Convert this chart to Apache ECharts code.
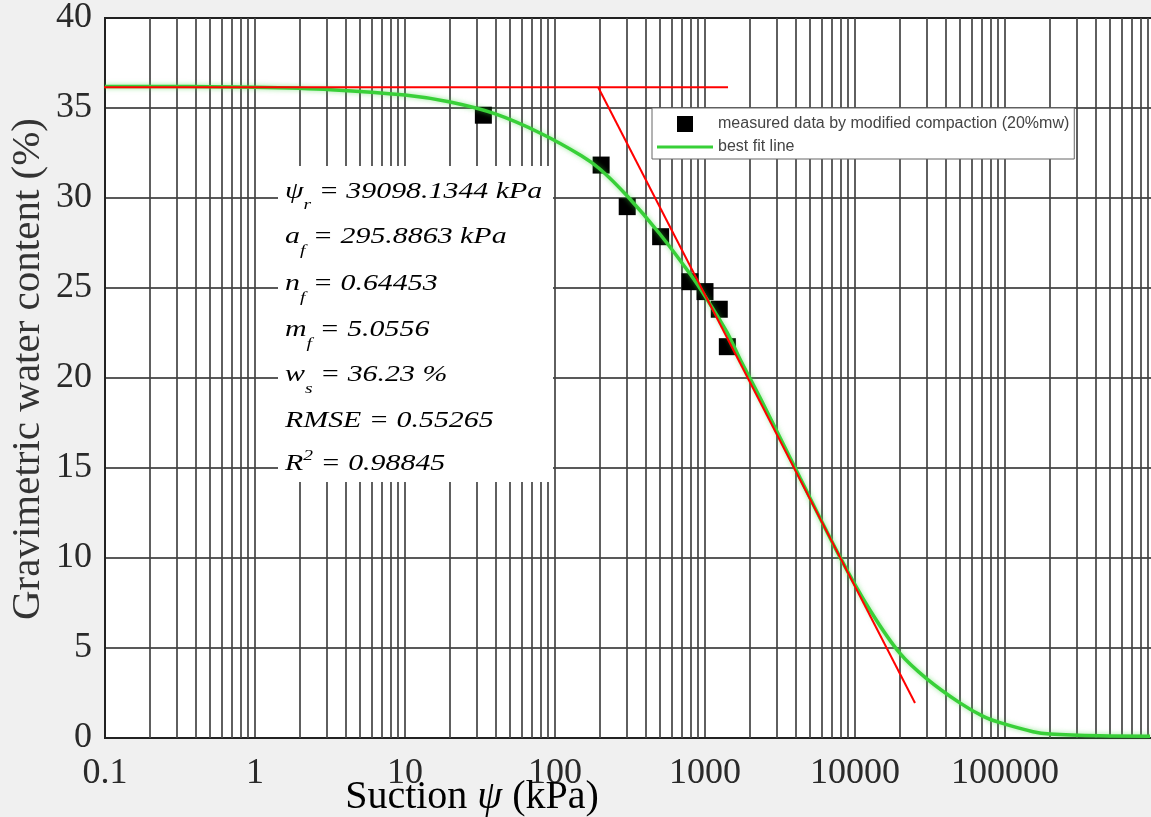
<!DOCTYPE html>
<html>
<head>
<meta charset="utf-8">
<script src="https://cdn.jsdelivr.net/npm/echarts@6/dist/echarts.min.js"></script>
<style>
  html, body { margin: 0; padding: 0; background: #f0f0f0; }
  #chart { width: 1151px; height: 817px; }
</style>
</head>
<body>
<div id="chart"></div>
<script>
// Measured points: suction (kPa) and gravimetric water content (%)
const measuredSuction = [33.3, 203, 303, 506, 794, 1000, 1245, 1409];
const measuredWater   = [34.6, 31.83, 29.52, 27.85, 25.35, 24.8, 23.82, 21.74];

// Best fit curve, sampled along the suction range
const fitSuction = [0.1, 0.32, 1, 3.2, 10, 20, 40, 80, 150, 200, 300, 500, 800, 1000, 1400, 1700,
                    2330, 4300, 7940, 12600, 19950, 30000, 50000, 71600, 92700, 153800, 199500, 430000, 926000];
const fitWater   = [36.2, 36.19, 36.15, 36.02, 35.72, 35.33, 34.67, 33.6, 32.35, 31.6, 30.15, 28.0, 25.75, 24.55, 22.55, 21.1,
                    18.9, 14.45, 10.05, 7.1, 4.7, 3.3, 1.95, 1.2, 0.85, 0.35, 0.22, 0.12, 0.1];

// Graphical construction: saturated plateau and inflection tangent
const plateauSuction = [0.0885, 1424];
const plateauWater   = [36.15, 36.15];
const tangentSuction = [194, 25119];
const tangentWater   = [36.15, 1.94];

// Axis ranges
const xRange = [0.1, 1e6];
const yRange = [0, 40];
const yStep = 5;

// Series names
const measuredName = 'measured data by modified compaction (20%mw)';
const fitName = 'best fit line';

// Fitted parameters shown in the annotation box
const paramSymbols = ['ψ', 'a', 'n', 'm', 'w', 'RMSE', 'R'];
const paramSubs    = ['r', 'f', 'f', 'f', 's', '', ''];
const paramSups    = ['', '', '', '', '', '', '2'];
const paramRest    = [' = 39098.1344 kPa', ' = 295.8863 kPa', ' = 0.64453', ' = 5.0556', ' = 36.23 %', ' = 0.55265', ' = 0.98845'];
const paramTops    = [176, 221.5, 268.5, 314.5, 359.5, 405.5, 448.5];

const zip = (xs, ys) => xs.map((x, i) => [x, ys[i]]);

// Log-decade minor grid lines (2..9 within each decade)
const minorGrid = [];
for (let d = -1; d < 6; d++) {
  for (let k = 2; k <= 9; k++) minorGrid.push({ xAxis: +(k * Math.pow(10, d)).toPrecision(6) });
}

const serif = 'Liberation Serif';
const annoStyles = {
  m: { fontSize: 23, fontStyle: 'italic', fontFamily: serif, color: '#333', lineHeight: 24, padding: [4, 0, 0, 0], verticalAlign: 'top' },
  s: { fontSize: 15, fontStyle: 'italic', fontFamily: serif, color: '#333', lineHeight: 16, padding: [22, 0, 0, 0], verticalAlign: 'top' },
  p: { fontSize: 15, fontStyle: 'italic', fontFamily: serif, color: '#333', lineHeight: 16, padding: [0, 0, 0, 0], verticalAlign: 'top' }
};

const annoTexts = paramSymbols.map((sym, i) => {
  let t = '{m|' + sym + '}';
  if (paramSubs[i]) t += '{s|' + paramSubs[i] + '}';
  if (paramSups[i]) t += '{p|' + paramSups[i] + '}';
  t += '{m|' + paramRest[i] + '}';
  return {
    type: 'text', x: 285, y: paramTops[i], scaleX: 1.3, z: 3,
    style: { text: t, rich: annoStyles, verticalAlign: 'top', align: 'left' }
  };
});

const chart = echarts.init(document.getElementById('chart'), null, { renderer: 'canvas' });

chart.setOption({
  backgroundColor: '#f0f0f0',
  animation: false,
  grid: {
    left: 105, top: 18, width: 1050, height: 720,
    outerBoundsMode: 'none', containLabel: false,
    show: true, backgroundColor: '#ffffff', borderColor: '#222', borderWidth: 2
  },
  legend: {
    orient: 'vertical', left: 652, top: 108,
    padding: [8, 5, 4, 5], itemGap: 7, itemWidth: 56, itemHeight: 16,
    backgroundColor: '#ffffff', borderColor: '#666', borderWidth: 1,
    textStyle: { fontSize: 16, fontFamily: 'Liberation Sans', color: '#444' },
    data: [
      { name: measuredName, icon: 'path://M0 0H10V10H0Z' },
      { name: fitName, icon: 'path://M0 0H56V3H0Z' }
    ]
  },
  xAxis: {
    type: 'log', logBase: 10, min: xRange[0], max: xRange[1], splitNumber: 7,
    axisLine: { show: true, lineStyle: { color: '#222', width: 2 } },
    axisTick: { show: false },
    axisLabel: {
      fontSize: 36, fontFamily: serif, color: '#2a2a2a', margin: 18,
      formatter: v => (v > xRange[1] * 0.99 ? '' : String(+v.toPrecision(6)))
    },
    splitLine: { show: true, lineStyle: { color: '#444', width: 1.7 } }
  },
  yAxis: {
    type: 'value', min: yRange[0], max: yRange[1], interval: yStep,
    axisLine: { show: true, lineStyle: { color: '#222', width: 2 } },
    axisTick: { show: false },
    axisLabel: { fontSize: 36, fontFamily: serif, color: '#2a2a2a', margin: 13 },
    splitLine: { show: true, lineStyle: { color: '#222', width: 1.7 } }
  },
  graphic: [
    { type: 'rect', z: 2, shape: { x: 278, y: 166, width: 275, height: 316 }, style: { fill: '#ffffff' } },
    ...annoTexts,
    {
      type: 'text', x: 472, y: 797, z: 3,
      style: {
        text: '{a|Suction }{b|ψ}{a| (kPa)}', align: 'center', verticalAlign: 'middle',
        rich: {
          a: { fontSize: 40, fontFamily: serif, color: '#333' },
          b: { fontSize: 40, fontFamily: serif, fontStyle: 'italic', color: '#333' }
        }
      }
    },
    {
      type: 'text', x: 28, y: 369, rotation: Math.PI / 2, z: 3,
      style: {
        text: 'Gravimetric water content (%)', align: 'center', verticalAlign: 'middle',
        fontSize: 41, fontFamily: serif, fill: '#333'
      }
    }
  ],
  series: [
    {
      name: measuredName, type: 'scatter', z: 3,
      data: zip(measuredSuction, measuredWater),
      symbol: 'rect', symbolSize: 17,
      itemStyle: { color: '#000', opacity: 1 },
      markLine: {
        silent: true, symbol: 'none', z: 1, animation: false,
        label: { show: false },
        lineStyle: { color: '#444', width: 1.7, type: 'solid' },
        emphasis: { disabled: true },
        data: minorGrid
      }
    },
    {
      name: fitName, type: 'line', z: 4,
      data: zip(fitSuction, fitWater),
      symbol: 'none', smooth: 0.3,
      itemStyle: { color: '#38d038' },
      lineStyle: { color: '#38d038', width: 3.5, shadowColor: 'rgba(60,210,60,0.55)', shadowBlur: 5 }
    },
    {
      name: 'plateau', type: 'line', z: 5, clip: false, silent: true,
      data: zip(plateauSuction, plateauWater),
      symbol: 'none', lineStyle: { color: '#ff0000', width: 2 }
    },
    {
      name: 'tangent', type: 'line', z: 5, clip: false, silent: true,
      data: zip(tangentSuction, tangentWater),
      symbol: 'none', lineStyle: { color: '#ff0000', width: 2 }
    }
  ]
});
</script>
</body>
</html>
